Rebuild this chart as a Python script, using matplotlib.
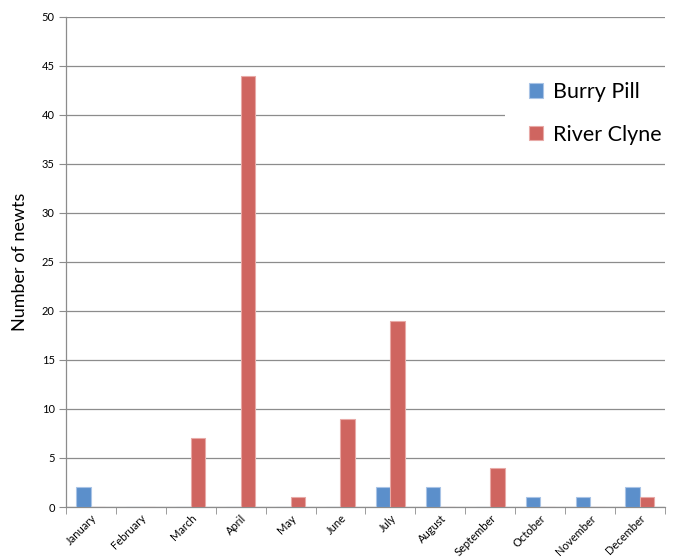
import matplotlib.pyplot as plt
from matplotlib.patches import Rectangle
import numpy as np

months = ["January", "February", "March", "April", "May", "June", "July",
          "August", "September", "October", "November", "December"]
burry_pill = [2, 0, 0, 0, 0, 0, 2, 2, 0, 1, 1, 2]
river_clyne = [0, 0, 7, 44, 1, 9, 19, 0, 4, 0, 0, 1]

plt.rcParams['font.family'] = ['Lato', 'DejaVu Sans']

fig = plt.figure(figsize=(6.73, 5.59), dpi=100)
ax = fig.add_axes([0.098, 0.093, 0.89, 0.877])

x = np.arange(len(months))
w = 0.29
ax.bar(x - w / 2, burry_pill, w, color="#5b8fcb", edgecolor="#a9c4e6", linewidth=0.8,
       label="Burry Pill", zorder=3)
ax.bar(x + w / 2, river_clyne, w, color="#cf6560", edgecolor="#e8aaa7", linewidth=0.8,
       label="River Clyne", zorder=3)

ax.set_xlim(-0.5, len(months) - 0.5)
ax.set_ylim(0, 50)
ax.set_yticks(range(0, 51, 5))
ax.yaxis.grid(True, color="#8c8c8c", linewidth=0.9, zorder=0)
ax.tick_params(axis='y', labelsize=8, length=5, color="#8c8c8c", pad=3)

ax.set_xticks(x)
ax.set_xticklabels(months, rotation=45, ha='right', rotation_mode='anchor', fontsize=8)
ax.set_xticks(np.arange(-0.5, len(months)), minor=True)
ax.tick_params(axis='x', which='major', length=0, pad=4)
ax.tick_params(axis='x', which='minor', length=5, color="#8c8c8c")

for side in ['top', 'right']:
    ax.spines[side].set_visible(False)
for side in ['left', 'bottom']:
    ax.spines[side].set_color("#8c8c8c")
    ax.spines[side].set_linewidth(0.9)

ax.set_ylabel("Number of newts", fontsize=13, labelpad=10)

# white panel behind the legend, hiding the gridline there
ax.add_patch(Rectangle((0.733, 0.71), 0.3, 0.18, transform=ax.transAxes,
                       facecolor='white', edgecolor='none', zorder=4, clip_on=False))

leg = ax.legend(loc='upper right', bbox_to_anchor=(0.994, 0.867), fontsize=15.5,
                frameon=False, borderaxespad=0, borderpad=0,
                handlelength=0.65, handleheight=0.65, handletextpad=0.45,
                labelspacing=1.05)
leg.set_zorder(5)

fig.savefig("out.png", dpi=100)
